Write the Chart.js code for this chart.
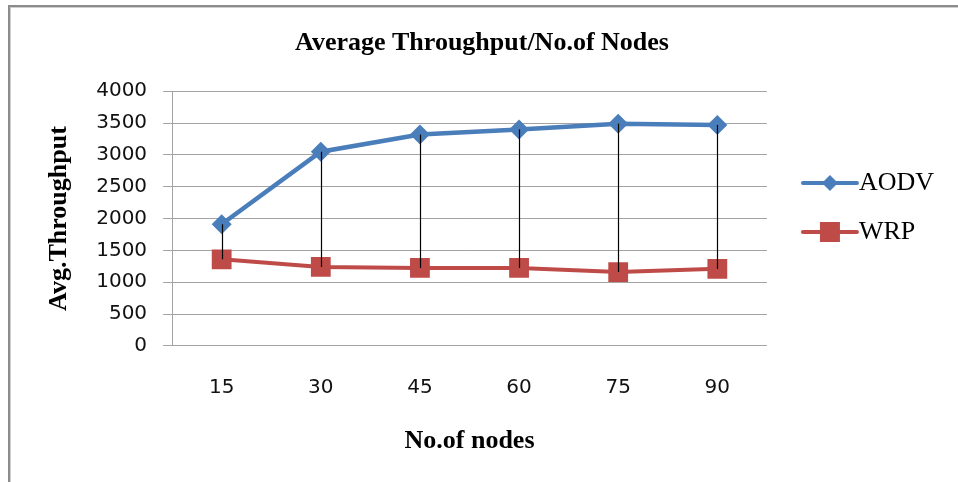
<!DOCTYPE html>
<html>
<head>
<meta charset="utf-8">
<script src="https://cdn.jsdelivr.net/npm/chart.js@4.4.1/dist/chart.umd.min.js"></script>
<style>
  html, body { margin: 0; padding: 0; background: #fff; }
  #wrap { width: 958px; height: 482px; position: relative; }
</style>
</head>
<body>
<div id="wrap"><canvas id="throughputChart"></canvas></div>
<script>
// datos
const nodeCounts = ['15', '30', '45', '60', '75', '90'];
const aodvThroughput = [1910, 3050, 3320, 3400, 3490, 3470];
const wrpThroughput = [1360, 1240, 1225, 1225, 1160, 1210];
const yTickValues = [0, 500, 1000, 1500, 2000, 2500, 3000, 3500, 4000];

const blue = '#4a7ebb';
const red = '#be4b48';
const serif = '"Liberation Serif", "Times New Roman", serif';
const sans = '"DejaVu Sans", sans-serif';

// muestra de leyenda: linea con marcador en el centro
function legendMarker(color, shape) {
    const c = document.createElement('canvas');
    c.width = 60; c.height = 22;
    const g = c.getContext('2d');
    g.strokeStyle = color;
    g.lineWidth = 4;
    g.lineCap = 'round';
    g.beginPath(); g.moveTo(3, 11); g.lineTo(57, 11); g.stroke();
    g.fillStyle = color;
    if (shape === 'diamond') {
        g.beginPath();
        g.moveTo(30, 3); g.lineTo(38, 11); g.lineTo(30, 19); g.lineTo(22, 11);
        g.closePath(); g.fill();
    } else {
        g.fillRect(20, 1, 20, 20);
    }
    return c;
}
const legendImages = [legendMarker(blue, 'diamond'), legendMarker(red, 'square')];

// marco gris arriba y a la izquierda, fondo blanco
const framePlugin = {
    id: 'frame',
    beforeDraw(chart) {
        const ctx = chart.ctx;
        ctx.save();
        ctx.fillStyle = '#fff';
        ctx.fillRect(0, 0, chart.width, chart.height);
        ctx.fillStyle = '#8c8c8c';
        ctx.fillRect(8, 5, 2, chart.height);
        ctx.fillRect(8, 5, chart.width, 2);
        ctx.fillStyle = '#cfcfcf';
        ctx.fillRect(10, 7, 1, chart.height);
        ctx.fillRect(10, 7, chart.width, 1);
        ctx.restore();
    }
};

// desplaza la leyenda un poco (como en el original)
const legendShift = { dx: 24, dy: -20 };
const legendShiftPlugin = {
    id: 'legendShift',
    afterLayout(chart) {
        const lg = chart.legend;
        lg.left += legendShift.dx; lg.right += legendShift.dx;
        lg.top += legendShift.dy; lg.bottom += legendShift.dy;
    }
};

// lineas verticales entre las dos series (drop lines)
const dropLinesPlugin = {
    id: 'dropLines',
    afterDatasetsDraw(chart) {
        const a = chart.getDatasetMeta(0).data;
        const b = chart.getDatasetMeta(1).data;
        const ctx = chart.ctx;
        ctx.save();
        ctx.strokeStyle = '#000';
        ctx.lineWidth = 1.2;
        for (let i = 0; i < a.length; i++) {
            const x = Math.round(a[i].x) + 0.5;
            ctx.beginPath();
            ctx.moveTo(x, a[i].y);
            ctx.lineTo(x, b[i].y);
            ctx.stroke();
        }
        ctx.restore();
    }
};

const ctxThroughput = document.getElementById('throughputChart').getContext('2d');
const throughputChart = new Chart(ctxThroughput, {
    type: 'line',
    data: {
        labels: nodeCounts,
        datasets: [{
            label: 'AODV',
            data: aodvThroughput,
            borderColor: blue,
            backgroundColor: blue,
            borderWidth: 4.5,
            pointStyle: 'rectRot',
            pointRadius: 10,
            pointBorderWidth: 0,
            tension: 0
        }, {
            label: 'WRP',
            data: wrpThroughput,
            borderColor: red,
            backgroundColor: red,
            borderWidth: 4,
            pointStyle: 'rect',
            pointRadius: 14,
            pointBorderWidth: 0,
            tension: 0
        }]
    },
    options: {
        responsive: true,
        maintainAspectRatio: false,
        animation: false,
        layout: { padding: { left: 44, right: 38, top: 0, bottom: 27 } },
        plugins: {
            title: {
                display: true,
                text: 'Average Throughput/No.of Nodes',
                color: '#000',
                font: { family: serif, size: 26, weight: 'bold' },
                padding: { top: 28, bottom: 32 }
            },
            legend: {
                position: 'right',
                labels: {
                    usePointStyle: true,
                    pointStyleWidth: 32,
                    padding: 23,
                    color: '#000',
                    font: { family: serif, size: 26 },
                    generateLabels(chart) {
                        const items = Chart.defaults.plugins.legend.labels.generateLabels(chart);
                        items.forEach((it, i) => { it.pointStyle = legendImages[i]; });
                        return items;
                    }
                }
            },
            tooltip: { enabled: false }
        },
        scales: {
            x: {
                offset: true,
                grid: { display: false, drawTicks: false },
                border: { display: false },
                ticks: { color: '#111', padding: 32, font: { family: sans, size: 20, lineHeight: 1 } },
                title: {
                    display: true,
                    text: 'No.of nodes',
                    color: '#000',
                    font: { family: serif, size: 26, weight: 'bold', lineHeight: 0.85 },
                    padding: { top: 0, bottom: 3 }
                }
            },
            y: {
                min: 0,
                max: 4000,
                afterBuildTicks(scale) { scale.ticks = yTickValues.map(v => ({ value: v })); },
                grid: { color: '#a3a3a3', lineWidth: 1, tickLength: 9 },
                border: { color: '#a3a3a3' },
                ticks: {
                    color: '#111',
                    padding: 16,
                    font: { family: sans, size: 20 },
                    callback: v => String(v)
                },
                title: {
                    display: true,
                    text: 'Avg.Throughput',
                    color: '#000',
                    font: { family: serif, size: 26, weight: 'bold' },
                    padding: { top: 0, bottom: 5 }
                }
            }
        }
    },
    plugins: [framePlugin, legendShiftPlugin, dropLinesPlugin]
});
</script>
</body>
</html>
